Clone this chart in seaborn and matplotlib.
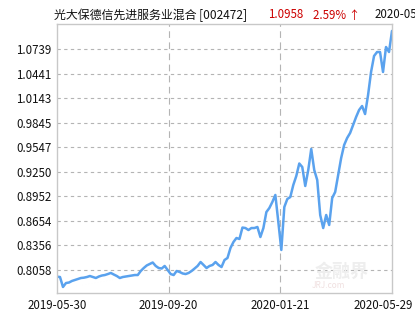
import numpy as np
import pandas as pd
import matplotlib
matplotlib.use("Agg")
import matplotlib.pyplot as plt
import matplotlib.transforms as mtransforms
import seaborn as sns

# ---- data ----
title_name = "光大保德信先进服务业混合 [002472]"
latest_nav = "1.0958"
latest_change = "2.59% ↑"
date_header = "2020-05-29"

x_tick_labels = ["2019-05-30", "2019-09-20", "2020-01-21", "2020-05-29"]
y_tick_values = [0.8058, 0.8356, 0.8654, 0.8952, 0.9250, 0.9547, 0.9845, 1.0143, 1.0441, 1.0739]
y_tick_labels = ["0.8058", "0.8356", "0.8654", "0.8952", "0.9250", "0.9547", "0.9845", "1.0143", "1.0441", "1.0739"]

nav = [
    0.7977, 0.7973, 0.7852, 0.7900, 0.7906, 0.7925, 0.7937, 0.7949, 0.7961, 0.7965,
    0.7973, 0.7985, 0.7973, 0.7961, 0.7979, 0.7991, 0.7997, 0.8009, 0.8022, 0.8003,
    0.7985, 0.7961, 0.7973, 0.7979, 0.7985, 0.7991, 0.7997, 0.7997, 0.8046, 0.8082,
    0.8113, 0.8131, 0.8149, 0.8107, 0.8082, 0.8076, 0.8107, 0.8058, 0.8009, 0.7997,
    0.8046, 0.8034, 0.8016, 0.8009, 0.8022, 0.8046, 0.8076, 0.8107, 0.8155, 0.8119,
    0.8082, 0.8107, 0.8119, 0.8155, 0.8119, 0.8094, 0.8179, 0.8204, 0.8325, 0.8398,
    0.8446, 0.8434, 0.8573, 0.8567, 0.8543, 0.8567, 0.8567, 0.8580, 0.8458, 0.8567,
    0.8761, 0.8810, 0.8883, 0.8968, 0.8640, 0.8301, 0.8822, 0.8919, 0.8943, 0.9089,
    0.9198, 0.9350, 0.9307, 0.9077, 0.9271, 0.9526, 0.9271, 0.9150, 0.8725, 0.8567,
    0.8725, 0.8604, 0.8931, 0.9004, 0.9210, 0.9416, 0.9574, 0.9659, 0.9720, 0.9817,
    0.9914, 0.9999, 1.0047, 0.9950, 1.0181, 1.0460, 1.0654, 1.0702, 1.0702, 1.0460,
    1.0763, 1.0702, 1.0958,
]

df = pd.DataFrame({"idx": np.arange(len(nav)), "nav": nav})

sns.set_theme(style="white")
plt.rcParams["font.family"] = ["Noto Sans CJK SC", "DejaVu Sans"]

W, H = 415, 330
fig = plt.figure(figsize=(W / 100, H / 100), dpi=100)
ax = fig.add_axes([57 / W, 1 - 293 / H, (392 - 57) / W, (293 - 24) / H])

sns.lineplot(data=df, x="idx", y="nav", ax=ax, color="#5aa2ee", linewidth=1.8)

n = len(nav) - 1
ax.set_xlim(0, n)
ax.set_ylim(0.7779, 1.1042)

xt = [0, n / 3, 2 * n / 3, n]
ax.set_xticks(xt)
ax.set_xticklabels(x_tick_labels, fontsize=8.3, color="#111111")
ax.set_yticks(y_tick_values)
ax.set_yticklabels(y_tick_labels, fontsize=8.3, color="#111111")
ax.tick_params(axis="both", length=0, pad=4)
ax.set_xlabel("")
ax.set_ylabel("")

# shift the last date label left so it stays in the picture
last = ax.get_xticklabels()[-1]
last.set_transform(last.get_transform() + mtransforms.ScaledTranslation(-0.09, 0, fig.dpi_scale_trans))

# grid lines
for yv in y_tick_values:
    ax.axhline(yv, color="#b4b4b4", linewidth=0.8, linestyle=(0, (3, 3)), zorder=0)
for xv in xt[1:3]:
    ax.axvline(xv, color="#b4b4b4", linewidth=0.8, linestyle=(0, (6, 4)), zorder=0)

for sp in ax.spines.values():
    sp.set_color("#c8c8c8")
    sp.set_linewidth(1.0)

# watermark
ax.text(0.93, 0.045, "金融界", transform=ax.transAxes, ha="right", va="bottom",
        fontsize=13, color="#eeeeee", fontweight="bold", zorder=0)
ax.text(0.86, 0.01, "JRJ.com", transform=ax.transAxes, ha="right", va="bottom",
        fontsize=6, color="#f0e0e0", style="italic", zorder=0)

# header
fig.text(54 / W, 1 - 15 / H, title_name, ha="left", va="center", fontsize=8.6, color="#111111")
fig.text(268 / W, 1 - 15 / H, latest_nav, ha="left", va="center", fontsize=8.3, color="#cc0000")
fig.text(313 / W, 1 - 15 / H, latest_change, ha="left", va="center", fontsize=8.3, color="#cc0000")
fig.text(375 / W, 1 - 15 / H, date_header, ha="left", va="center", fontsize=8.3, color="#111111")

fig.savefig("out.png", dpi=100)
